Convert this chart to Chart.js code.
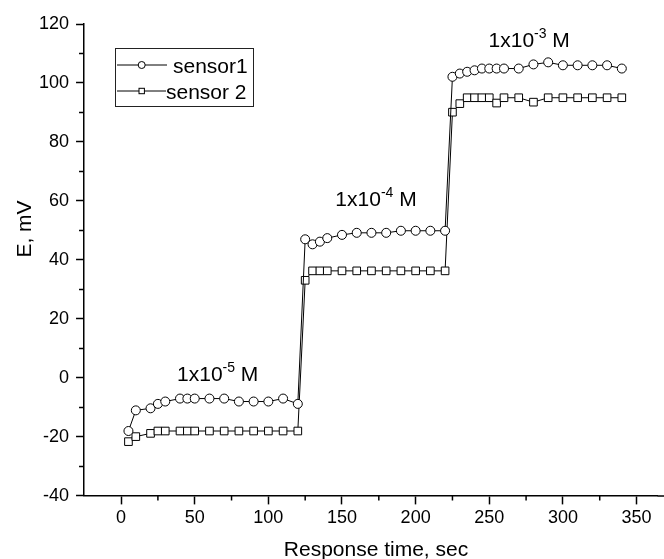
<!DOCTYPE html>
<html>
<head>
<meta charset="utf-8">
<script src="https://cdn.jsdelivr.net/npm/chart.js@4.4.1/dist/chart.umd.min.js"></script>
<style>
  html, body { margin: 0; padding: 0; background: #fff; }
  canvas { display: block; }
</style>
</head>
<body>
<canvas id="chart" width="664" height="559"></canvas>
<script>
// response time, sec (same sampling for both sensors)
const time = [
  5, 10, 20, 25, 30, 40, 45, 50, 60, 70, 80, 90, 100, 110, 120,
  125, 130, 135, 140, 150, 160, 170, 180, 190, 200, 210, 220,
  225, 230, 235, 240, 245, 250, 255, 260, 270, 280, 290, 300, 310, 320, 330, 340
];

// E, mV
const sensor1 = [
  -18, -11, -10.3, -8.8, -8, -7, -7, -7, -7, -7, -8, -8, -8, -7, -8.8,
  47, 45.3, 46.2, 47.4, 48.5, 49.2, 49.2, 49.2, 49.9, 49.9, 49.9, 49.9,
  102.1, 103.2, 103.8, 104.3, 104.9, 104.9, 104.9, 104.9, 104.9, 106.3, 107, 106, 106, 106, 106, 104.9
];
const sensor2 = [
  -21.6, -19.9, -18.8, -18, -18, -18, -18, -18, -18, -18, -18, -18, -18, -18, -18,
  33.1, 36.3, 36.3, 36.3, 36.3, 36.3, 36.3, 36.3, 36.3, 36.3, 36.3, 36.3,
  90.1, 93, 95, 95, 95, 95, 93.2, 95, 95, 93.5, 95, 95, 95, 95, 95, 95
];

const xTicks = [0, 50, 100, 150, 200, 250, 300, 350];
const yTicks = [-40, -20, 0, 20, 40, 60, 80, 100, 120];
const xMinor = [25, 75, 125, 175, 225, 275, 325];
const yMinor = [-30, -10, 10, 30, 50, 70, 90, 110];

// concentration labels, anchored at the left end of the text baseline
const concLabels = [
  { t: 38, e: -1.2, exp: '-5' },
  { t: 145.5, e: 58.4, exp: '-4' },
  { t: 249.5, e: 112.3, exp: '-3' },
];

const FONT = 'Arial, "Liberation Sans", sans-serif';

function toPoints(ys) {
  return time.map((t, i) => ({ x: t, y: ys[i] }));
}

const extras = {
  id: 'extras',
  afterDraw(chart) {
    const ctx = chart.ctx;
    const xs = chart.scales.x, ys = chart.scales.y;
    ctx.save();
    ctx.strokeStyle = '#000';
    ctx.fillStyle = '#000';

    // minor ticks, and the x axis line running on to the edge
    ctx.lineWidth = 1.5;
    ctx.beginPath();
    xMinor.forEach(v => {
      const px = xs.getPixelForValue(v);
      ctx.moveTo(px, xs.top);
      ctx.lineTo(px, xs.top + 4.5);
    });
    yMinor.forEach(v => {
      const py = ys.getPixelForValue(v);
      ctx.moveTo(ys.right, py);
      ctx.lineTo(ys.right - 4.5, py);
    });
    ctx.moveTo(xs.right, xs.top);
    ctx.lineTo(chart.width, xs.top);
    ctx.stroke();

    // axis titles
    ctx.font = '21px ' + FONT;
    ctx.textAlign = 'center';
    ctx.textBaseline = 'alphabetic';
    ctx.fillText('Response time, sec', 376, 556);
    ctx.save();
    ctx.translate(31, 229);
    ctx.rotate(-Math.PI / 2);
    ctx.fillText('E, mV', 0, 0);
    ctx.restore();

    // concentration labels with superscript
    ctx.textAlign = 'left';
    concLabels.forEach(l => {
      let px = xs.getPixelForValue(l.t);
      const py = ys.getPixelForValue(l.e);
      ctx.font = '21px ' + FONT;
      ctx.fillText('1x10', px, py);
      px += ctx.measureText('1x10').width;
      ctx.font = '14px ' + FONT;
      ctx.fillText(l.exp, px, py - 9);
      px += ctx.measureText(l.exp).width;
      ctx.font = '21px ' + FONT;
      ctx.fillText(' M', px, py);
    });

    // legend box
    ctx.lineWidth = 1;
    ctx.strokeStyle = '#222';
    ctx.strokeRect(115.5, 48.5, 138, 58);
    ctx.strokeStyle = '#000';
    ctx.beginPath();
    ctx.moveTo(117, 65); ctx.lineTo(167, 65);
    ctx.moveTo(117, 91); ctx.lineTo(166, 91);
    ctx.stroke();
    ctx.fillStyle = '#fff';
    ctx.beginPath();
    ctx.arc(141.7, 65, 3.5, 0, Math.PI * 2);
    ctx.fill(); ctx.stroke();
    ctx.fillRect(139, 88.3, 5.4, 5.4);
    ctx.strokeRect(139, 88.3, 5.4, 5.4);
    ctx.fillStyle = '#000';
    ctx.font = '21px ' + FONT;
    ctx.fillText('sensor1', 173, 72.5);
    ctx.fillText('sensor 2', 166, 98.5);

    ctx.restore();
  }
};

new Chart(document.getElementById('chart'), {
  type: 'line',
  data: {
    datasets: [
      {
        label: 'sensor1',
        data: toPoints(sensor1),
        borderColor: '#000',
        borderWidth: 1,
        pointStyle: 'circle',
        pointRadius: 4.5,
        pointBackgroundColor: '#fff',
        pointBorderColor: '#000',
        pointBorderWidth: 1,
        tension: 0,
      },
      {
        label: 'sensor 2',
        data: toPoints(sensor2),
        borderColor: '#000',
        borderWidth: 1,
        pointStyle: 'rect',
        pointRadius: 5.4,
        pointBackgroundColor: '#fff',
        pointBorderColor: '#000',
        pointBorderWidth: 1,
        tension: 0,
      },
    ],
  },
  options: {
    responsive: false,
    animation: false,
    devicePixelRatio: 1,
    layout: { padding: { left: 32, right: 0, top: 24, bottom: 27 } },
    plugins: {
      legend: { display: false },
      tooltip: { enabled: false },
    },
    scales: {
      x: {
        type: 'linear',
        min: -25.5,
        max: 364.3,
        afterBuildTicks: s => { s.ticks = xTicks.map(v => ({ value: v })); },
        ticks: { color: '#000', font: { family: FONT, size: 18 }, padding: 3, maxRotation: 0 },
        grid: { drawOnChartArea: false, tickLength: 8.5, tickColor: '#000', tickWidth: 1.5 },
        border: { color: '#000', width: 1.5 },
      },
      y: {
        type: 'linear',
        min: -40,
        max: 120,
        afterBuildTicks: s => { s.ticks = yTicks.map(v => ({ value: v })); },
        ticks: { color: '#000', font: { family: FONT, size: 18 }, padding: 7 },
        grid: { drawOnChartArea: false, tickLength: 7.5, tickColor: '#000', tickWidth: 1.5 },
        border: { color: '#000', width: 1.5 },
      },
    },
  },
  plugins: [extras],
});
</script>
</body>
</html>
